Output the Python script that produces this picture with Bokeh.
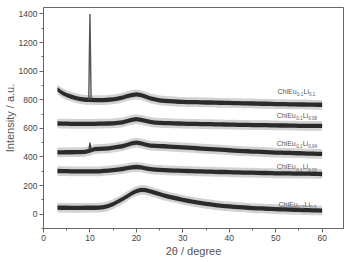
from bokeh.plotting import figure
from bokeh.embed import file_html
from bokeh.resources import INLINE
from bokeh.models import Range1d, FixedTicker
from bokeh.core.properties import value

two_theta = list(range(3, 61))

s_li010 = [
    872, 848, 832, 821, 812, 805, 800, 800, 798, 797,
    798, 800, 803, 808, 815, 825, 833, 838, 833, 822,
    810, 802, 796, 792, 790, 788, 786, 785, 784, 784,
    783, 782, 781, 781, 780, 779, 778, 778, 777, 776,
    775, 775, 774, 773, 772, 772, 771, 770, 770, 769,
    768, 768, 767, 767, 766, 766, 765, 765,
]
s_li008 = [
    634, 633, 633, 632, 632, 632, 632, 632, 632, 633,
    633, 634, 635, 638, 642, 650, 660, 665, 660, 652,
    645, 640, 638, 637, 636, 635, 634, 633, 632, 632,
    631, 630, 630, 629, 628, 628, 627, 626, 626, 625,
    625, 624, 623, 623, 622, 622, 621, 621, 620, 620,
    619, 619, 618, 618, 618, 617, 617, 617,
]
s_li004 = [
    432, 432, 433, 433, 434, 434, 435, 445, 455, 456,
    458, 460, 465, 470, 475, 485, 495, 500, 495, 487,
    480, 477, 476, 475, 473, 471, 469, 467, 465, 463,
    461, 459, 457, 455, 453, 451, 449, 447, 445, 443,
    441, 440, 438, 437, 435, 434, 432, 431, 430, 429,
    428, 427, 426, 425, 424, 423, 422, 421,
]
s_li002 = [
    302, 301, 301, 300, 300, 300, 300, 300, 300, 300,
    303, 305, 308, 312, 316, 322, 328, 330, 327, 320,
    315, 312, 310, 308, 306, 305, 304, 303, 302, 301,
    300, 299, 298, 297, 296, 295, 295, 294, 293, 292,
    291, 291, 290, 289, 288, 288, 287, 286, 286, 285,
    285, 284, 284, 283, 283, 282, 282, 281,
]
s_li000 = [
    46, 45, 45, 44, 44, 44, 45, 45, 45, 46,
    50, 58, 70, 88, 105, 125, 145, 162, 170, 168,
    160, 150, 140, 130, 122, 115, 108, 100, 94, 88,
    82, 77, 72, 68, 64, 60, 57, 54, 51, 49,
    47, 45, 43, 41, 40, 38, 37, 35, 34, 33,
    32, 31, 30, 29, 28, 27, 26, 25,
]

spike1_x = [9.75, 10.0, 10.25]
spike1_y = [800, 1400, 800]
spike3_x = [9.75, 10.0, 10.25]
spike3_y = [440, 500, 450]

series = [s_li010, s_li008, s_li004, s_li002, s_li000]
label_eu = ["0.1", "0.1", "0.1", "0.1", "0.0"]
label_li = ["0.1", "0.08", "0.04", "0.02", "0.0"]
label_x = [50.4, 50.2, 50.2, 50.2, 50.6]
label_y = [860, 690, 495, 330, 70]

x_ticks = [0, 10, 20, 30, 40, 50, 60]
y_ticks = [0, 200, 400, 600, 800, 1000, 1200, 1400]

FONT = "Liberation Sans"
GRAY = "#555555"
FRINGE = 34
CORE = 15

p = figure(width=346, height=262, output_backend="svg", toolbar_location=None,
           x_range=Range1d(0, 64.6), y_range=Range1d(-100, 1445),
           min_border_left=42, min_border_right=3, min_border_top=7, min_border_bottom=34)
p.grid.visible = False
p.outline_line_color = "#666666"
p.background_fill_color = "white"
p.border_fill_color = "white"

for s in series:
    p.varea(x=two_theta, y1=[v - FRINGE for v in s], y2=[v + FRINGE for v in s],
            fill_color="#b4b4b4", fill_alpha=0.6)
    p.varea(x=two_theta, y1=[v - CORE for v in s], y2=[v + CORE for v in s],
            fill_color="#222222", fill_alpha=0.95)

p.line(spike1_x, spike1_y, line_color="#555555", line_width=1.4)
p.line(spike3_x, spike3_y, line_color="#333333", line_width=1.2)

for i in range(len(series)):
    p.text([label_x[i]], [label_y[i]], text=["ChiEu"], text_font=value(FONT),
           text_font_size="7px", text_color=GRAY, text_baseline="middle", text_align="left")
    p.text([label_x[i]], [label_y[i]], text=[label_eu[i]], text_font=value(FONT),
           text_font_size="4.5px", text_color=GRAY, text_baseline="middle", text_align="left",
           x_offset=19.5, y_offset=3)
    p.text([label_x[i]], [label_y[i]], text=["Li"], text_font=value(FONT),
           text_font_size="7px", text_color=GRAY, text_baseline="middle", text_align="left",
           x_offset=26)
    p.text([label_x[i]], [label_y[i]], text=[label_li[i]], text_font=value(FONT),
           text_font_size="4.5px", text_color=GRAY, text_baseline="middle", text_align="left",
           x_offset=31.5, y_offset=3)

for ax in (p.xaxis[0], p.yaxis[0]):
    ax.axis_line_color = "#666666"
    ax.major_tick_line_color = "#666666"
    ax.minor_tick_line_color = "#666666"
    ax.major_tick_out = 4
    ax.major_tick_in = 0
    ax.minor_tick_out = 2
    ax.minor_tick_in = 0
    ax.major_label_text_font = FONT
    ax.major_label_text_font_size = "8.5px"
    ax.major_label_text_color = "#444444"
    ax.axis_label_text_font = FONT
    ax.axis_label_text_font_size = "11px"
    ax.axis_label_text_font_style = "normal"
    ax.axis_label_text_color = GRAY

p.xaxis[0].ticker = FixedTicker(ticks=x_ticks, minor_ticks=[5, 15, 25, 35, 45, 55])
p.yaxis[0].ticker = FixedTicker(ticks=y_ticks, minor_ticks=[-100, 100, 300, 500, 700, 900, 1100, 1300])
p.xaxis[0].axis_label = "2θ / degree"
p.yaxis[0].axis_label = "Intensity / a.u."
p.xaxis[0].major_label_standoff = 2
p.yaxis[0].major_label_standoff = 2
p.xaxis[0].axis_label_standoff = 1
p.yaxis[0].axis_label_standoff = 0

open("out.html", "w").write(file_html(p, INLINE))
